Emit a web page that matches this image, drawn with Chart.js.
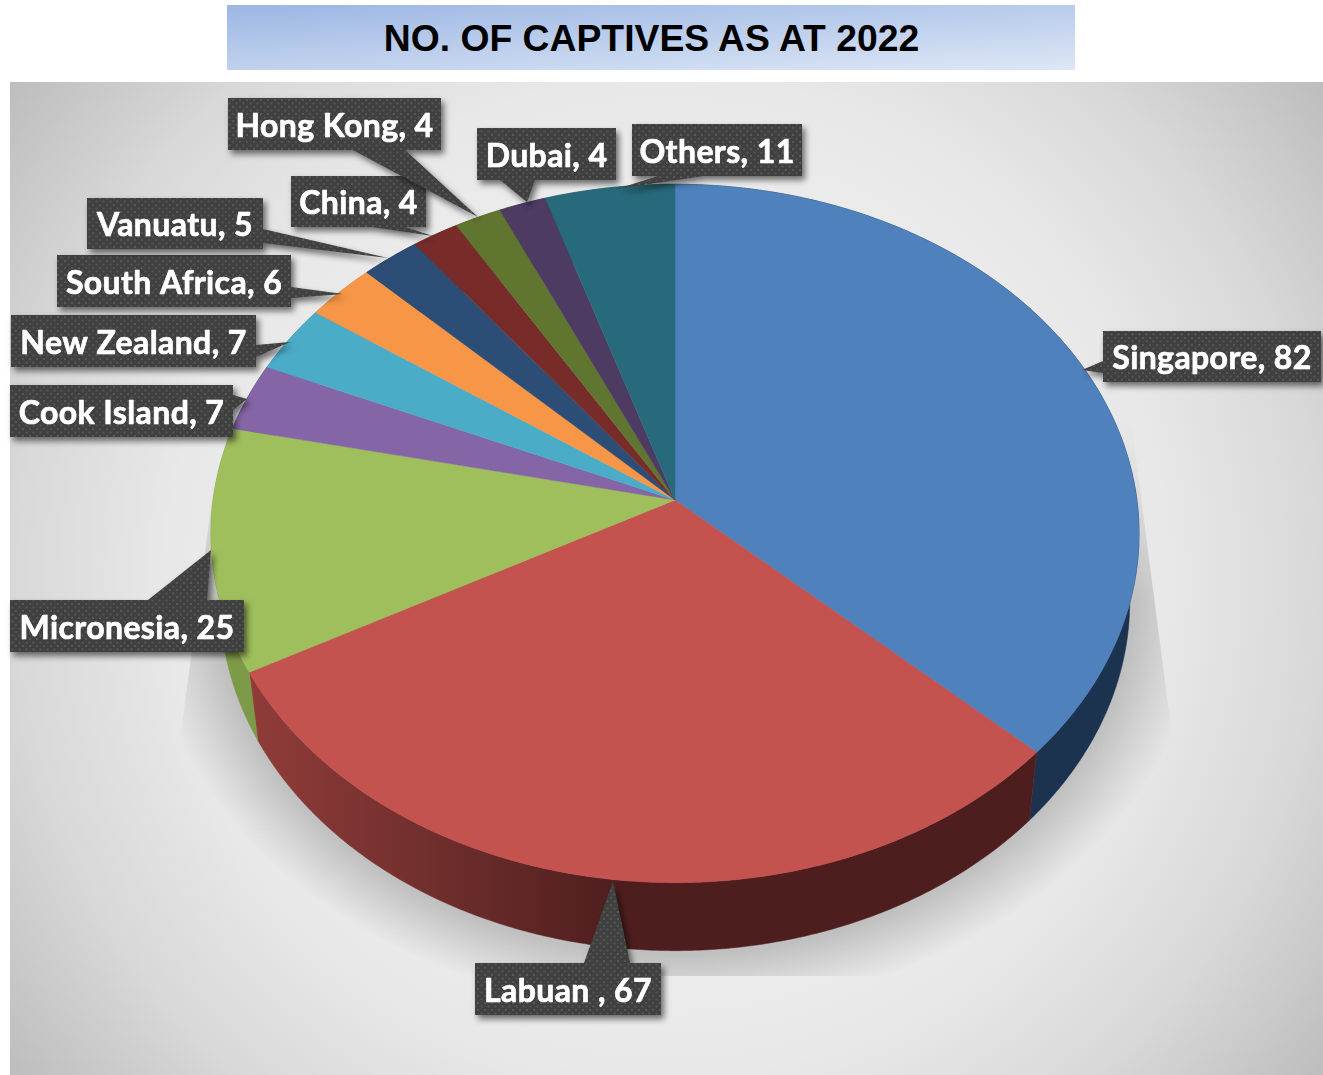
<!DOCTYPE html>
<html>
<head>
<meta charset="utf-8">
<title>No. of captives as at 2022</title>
<script src="https://cdn.jsdelivr.net/npm/chart.js@4"></script>
<style>
  html, body { margin: 0; padding: 0; background: #fff; overflow: hidden; }
  #wrap { position: relative; width: 1323px; height: 1075px; }
  #panel {
    position: absolute; left: 10px; top: 82px; width: 1313px; height: 993px;
    background: radial-gradient(circle 830px at 50% 50%, #f8f8f8 0%, #e8e8e8 60%, #d8d8d8 79%, #bcbcbc 100%);
  }
  #banner {
    position: absolute; left: 227px; top: 5px; width: 848px; height: 65px;
    background: linear-gradient(176.5deg, #9cb6e3 0%, #dde7f6 100%);
    font: bold 37.3px "Liberation Sans", sans-serif; color: #000;
    text-align: center; line-height: 67px; text-indent: 1px;
  }
  canvas { position: absolute; left: 0; top: 0; }
</style>
</head>
<body>
<div id="wrap">
  <div id="panel"></div>
  <div id="banner">NO. OF CAPTIVES AS AT 2022</div>
  <canvas id="captivesChart" width="1323" height="1075"></canvas>
</div>
<script>
const categories = ["Singapore", "Labuan ", "Micronesia", "Cook Island", "New Zealand", "South Africa", "Vanuatu", "China", "Hong Kong", "Dubai", "Others"];
const captives = [82, 67, 25, 7, 7, 6, 5, 4, 4, 4, 11];
const sliceColors = ["#4f81bd", "#c4524f", "#9fbe5c", "#8465a6", "#4bacc8", "#f79646", "#2c4d75", "#772c2a", "#5f7530", "#4d3b62", "#276a7c"];
const sideColors = ["#1c3350", "#7a2f2d", "#7d9a48", "#5c4878", "#357c90", "#b36c32", "#1d3450", "#501e1c", "#445423", "#362a46", "#1b4a57"];

// callout boxes for the data labels: box edges, wedge base and wedge tip
const labelLayout = [
  { box: [1103, 331, 1321, 382], wedge: [[1103, 361], [1103, 373], [1082, 370]] },
  { box: [475, 963, 661, 1015], wedge: [[584, 963], [630, 963], [613, 881]] },
  { box: [10, 600, 244, 652], wedge: [[148, 600], [207, 600], [211, 550]] },
  { box: [10, 385, 233, 437], wedge: [[233, 395], [233, 410], [247, 399]] },
  { box: [11, 315, 256, 367], wedge: [[256, 345], [256, 357], [290, 342]] },
  { box: [57, 255, 291, 307], wedge: [[291, 287], [291, 298], [343, 294]] },
  { box: [87, 198, 263, 249], wedge: [[263, 229], [263, 243], [388, 258]] },
  { box: [291, 176, 426, 227], wedge: [[372, 227], [405, 227], [433, 236]] },
  { box: [228, 98, 441, 150], wedge: [[353, 150], [405, 150], [478, 217]] },
  { box: [477, 128, 616, 180], wedge: [[500, 180], [535, 180], [527, 202]] },
  { box: [632, 124, 802, 176], wedge: [[658, 176], [703, 176], [617, 189]] },
];

// tilted disc: the arcs stay circular in the library, this bends them into perspective
const STRETCH = 1.335;
const TILT = -0.0958;
const DEPTH = 68;
const BOTTOM_SCALE = 0.98;

function project(arc, angle) {
  const d = 1 + TILT * Math.sin(angle);
  return [
    arc.x + (arc.outerRadius * STRETCH * Math.cos(angle)) / d,
    arc.y + (arc.outerRadius * Math.sin(angle)) / d,
  ];
}

function rimPoints(arc) {
  const pts = [];
  const steps = Math.max(4, Math.ceil((arc.endAngle - arc.startAngle) / 0.008));
  for (let i = 0; i <= steps; i++) {
    pts.push(project(arc, arc.startAngle + ((arc.endAngle - arc.startAngle) * i) / steps));
  }
  return pts;
}

function drawFloorShadow(ctx) {
  ctx.save();
  ctx.beginPath();
  ctx.moveTo(1131, 420);
  ctx.lineTo(1170, 720);
  ctx.lineTo(1200, 976);
  ctx.lineTo(150, 976);
  ctx.lineTo(180, 740);
  ctx.lineTo(212, 500);
  ctx.closePath();
  ctx.clip();
  ctx.translate(675, 590);
  ctx.scale(530, 420);
  const g = ctx.createRadialGradient(0, 0, 0, 0, 0, 1);
  g.addColorStop(0, "rgba(192,192,192,1)");
  g.addColorStop(0.87, "rgba(192,192,192,1)");
  g.addColorStop(1, "rgba(192,192,192,0)");
  ctx.fillStyle = g;
  ctx.fillRect(-2, -2, 4, 4);
  ctx.restore();

  // fade the shadow out towards the top of the disc
  ctx.save();
  ctx.globalCompositeOperation = "destination-out";
  const fade = ctx.createLinearGradient(0, 420, 0, 600);
  fade.addColorStop(0, "rgba(0,0,0,1)");
  fade.addColorStop(1, "rgba(0,0,0,0)");
  ctx.fillStyle = fade;
  ctx.fillRect(0, 300, 1323, 300);
  ctx.restore();
}

function drawWalls(ctx, arcs) {
  const redWall = ctx.createLinearGradient(250, 0, 620, 0);
  redWall.addColorStop(0, "#903c39");
  redWall.addColorStop(0.5, "#6f2e2c");
  redWall.addColorStop(1, "#4e1e1e");
  arcs.forEach((arc, i) => {
    const pts = rimPoints(arc);
    ctx.beginPath();
    pts.forEach((p, n) => (n ? ctx.lineTo(p[0], p[1]) : ctx.moveTo(p[0], p[1])));
    for (let n = pts.length - 1; n >= 0; n--) {
      ctx.lineTo(arc.x + (pts[n][0] - arc.x) * BOTTOM_SCALE, pts[n][1] + DEPTH);
    }
    ctx.closePath();
    ctx.fillStyle = i === 1 ? redWall : sideColors[i];
    ctx.strokeStyle = ctx.fillStyle;
    ctx.lineWidth = 0.5;
    ctx.fill();
    ctx.stroke();
  });
}

function drawTop(ctx, arcs) {
  arcs.forEach((arc, i) => {
    ctx.beginPath();
    ctx.moveTo(arc.x, arc.y);
    rimPoints(arc).forEach((p) => ctx.lineTo(p[0], p[1]));
    ctx.closePath();
    ctx.fillStyle = sliceColors[i];
    ctx.strokeStyle = sliceColors[i];
    ctx.lineWidth = 0.5;
    ctx.fill();
    ctx.stroke();
  });
}

function dottedFill(ctx) {
  const tile = document.createElement("canvas");
  tile.width = 7;
  tile.height = 7;
  const t = tile.getContext("2d");
  t.fillStyle = "#404040";
  t.fillRect(0, 0, 7, 7);
  t.fillStyle = "#565656";
  t.fillRect(1, 1, 2, 2);
  t.fillRect(4.5, 4.5, 2, 2);
  return ctx.createPattern(tile, "repeat");
}

function drawLabels(ctx) {
  const fill = dottedFill(ctx);
  categories.forEach((name, i) => {
    const { box, wedge } = labelLayout[i];
    const [x0, y0, x1, y1] = box;
    ctx.save();
    ctx.beginPath();
    ctx.moveTo(x0, y0);
    ctx.lineTo(x1, y0);
    ctx.lineTo(x1, y1);
    ctx.lineTo(x0, y1);
    ctx.closePath();
    // wedge has to wind the same way as the box so the two fill as one shape
    const [a, b, c] = wedge;
    const cross = (b[0] - a[0]) * (c[1] - a[1]) - (b[1] - a[1]) * (c[0] - a[0]);
    const tri = cross > 0 ? [a, b, c] : [a, c, b];
    ctx.moveTo(tri[0][0], tri[0][1]);
    ctx.lineTo(tri[1][0], tri[1][1]);
    ctx.lineTo(tri[2][0], tri[2][1]);
    ctx.closePath();
    ctx.shadowColor = "rgba(0,0,0,0.55)";
    ctx.shadowBlur = 6;
    ctx.shadowOffsetX = 3;
    ctx.shadowOffsetY = 4;
    ctx.fillStyle = fill;
    ctx.fill();
    ctx.restore();

    const text = `${name}, ${captives[i]}`;
    const tx = (x0 + x1) / 2;
    const ty = (y0 + y1) / 2 + 2.5;
    ctx.fillStyle = "#fff";
    ctx.strokeStyle = "#fff";
    ctx.lineWidth = 0.7;
    ctx.lineJoin = "round";
    ctx.font = 'bold 32px "Lato", sans-serif';
    ctx.letterSpacing = "0.4px";
    ctx.textAlign = "center";
    ctx.textBaseline = "middle";
    ctx.fillText(text, tx, ty);
    ctx.strokeText(text, tx, ty);
  });
}

const disc3d = {
  id: "disc3d",
  beforeDatasetDraw(chart) {
    const ctx = chart.ctx;
    const arcs = chart.getDatasetMeta(0).data;
    drawFloorShadow(ctx);
    drawWalls(ctx, arcs);
    drawTop(ctx, arcs);
    return false;
  },
  afterDraw(chart) {
    drawLabels(chart.ctx);
  },
};

window.captivesChart = new Chart(document.getElementById("captivesChart"), {
  type: "pie",
  data: {
    labels: categories,
    datasets: [
      {
        data: captives,
        backgroundColor: sliceColors,
        borderWidth: 0,
      },
    ],
  },
  options: {
    responsive: false,
    animation: false,
    layout: { padding: { left: 329, right: 302, top: 154, bottom: 229 } },
    plugins: {
      legend: { display: false },
      tooltip: { enabled: false },
    },
  },
  plugins: [disc3d],
});
</script>
</body>
</html>
